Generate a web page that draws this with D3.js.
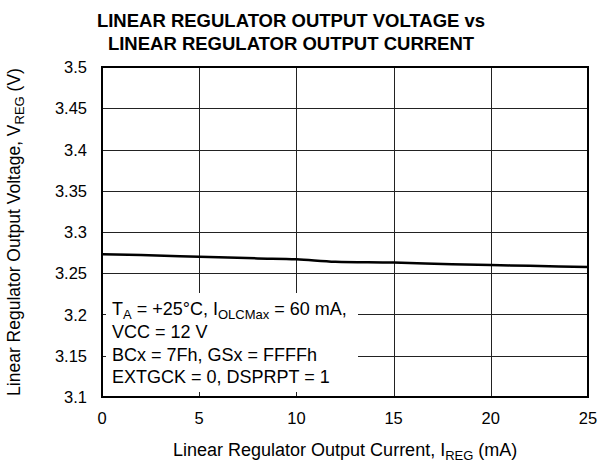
<!DOCTYPE html>
<html>
<head>
<meta charset="utf-8">
<script src="https://d3js.org/d3.v7.min.js"></script>
<style>
  body { margin: 0; background: #fff; }
  text { font-family: "Liberation Sans", Arial, sans-serif; fill: #000; }
</style>
</head>
<body>
<svg id="chart" width="600" height="465"></svg>
<script>
// values
var current = [0, 2, 5, 8, 10, 12, 15, 18, 20, 22, 25];
var vreg = [3.273, 3.272, 3.270, 3.268, 3.267, 3.264, 3.263, 3.261, 3.260, 3.259, 3.2575];

var xTicks = [0, 5, 10, 15, 20, 25];
var yTicks = [3.1, 3.15, 3.2, 3.25, 3.3, 3.35, 3.4, 3.45, 3.5];

var svg = d3.select('#chart');
var plotL = 102, plotR = 588, plotT = 67, plotB = 397;

var x = d3.scaleLinear().domain([0, 25]).range([plotL, plotR]);
var y = d3.scaleLinear().domain([3.1, 3.5]).range([plotB, plotT]);

// title
svg.append('text').attr('x', 291).attr('y', 27).attr('text-anchor', 'middle')
  .style('font-weight', 'bold').style('font-size', '18.5px')
  .text('LINEAR REGULATOR OUTPUT VOLTAGE vs');
svg.append('text').attr('x', 291).attr('y', 50).attr('text-anchor', 'middle')
  .style('font-weight', 'bold').style('font-size', '18.5px')
  .text('LINEAR REGULATOR OUTPUT CURRENT');

// grid
var grid = svg.append('g').attr('stroke', '#222').attr('stroke-width', 1);
grid.selectAll('line.v').data(xTicks.slice(1, -1)).enter().append('line')
  .attr('x1', function(d){ return Math.round(x(d)) + 0.5; })
  .attr('x2', function(d){ return Math.round(x(d)) + 0.5; })
  .attr('y1', plotT).attr('y2', plotB);
grid.selectAll('line.h').data(yTicks.slice(1, -1)).enter().append('line')
  .attr('y1', function(d){ return Math.round(y(d)) + 0.5; })
  .attr('y2', function(d){ return Math.round(y(d)) + 0.5; })
  .attr('x1', plotL).attr('x2', plotR);

// curve
var line = d3.line()
  .x(function(d, i){ return x(current[i]); })
  .y(function(d){ return y(d); })
  .curve(d3.curveMonotoneX);
svg.append('path').datum(vreg).attr('d', line)
  .attr('fill', 'none').attr('stroke', '#000').attr('stroke-width', 2.5);

// conditions box
svg.append('rect').attr('x', 106).attr('y', 293).attr('width', 252).attr('height', 99)
  .attr('fill', '#fff');

var note = svg.append('g').style('font-size', '18px');
var t1 = note.append('text').attr('x', 112).attr('y', 315);
t1.append('tspan').text('T');
t1.append('tspan').attr('dy', 4).style('font-size', '13px').text('A');
t1.append('tspan').attr('dy', -4).text(' = +25°C, I');
t1.append('tspan').attr('dy', 4).style('font-size', '13px').text('OLCMax');
t1.append('tspan').attr('dy', -4).text(' = 60 mA,');
note.append('text').attr('x', 112).attr('y', 338).text('VCC = 12 V');
note.append('text').attr('x', 112).attr('y', 361).text('BCx = 7Fh, GSx = FFFFh');
note.append('text').attr('x', 112).attr('y', 383).text('EXTGCK = 0, DSPRPT = 1');

// border
svg.append('rect').attr('x', plotL).attr('y', plotT)
  .attr('width', plotR - plotL).attr('height', plotB - plotT)
  .attr('fill', 'none').attr('stroke', '#000').attr('stroke-width', 2);

// tick labels
svg.selectAll('text.xt').data(xTicks).enter().append('text')
  .attr('x', function(d){ return x(d); }).attr('y', 424)
  .attr('text-anchor', 'middle').style('font-size', '16.5px')
  .text(function(d){ return d; });
svg.selectAll('text.yt').data(yTicks).enter().append('text')
  .attr('x', 87).attr('y', function(d){ return y(d) + 6; })
  .attr('text-anchor', 'end').style('font-size', '16.5px')
  .text(function(d){ return d; });

// axis titles
var xl = svg.append('text').attr('x', 173).attr('y', 456).style('font-size', '18px');
xl.append('tspan').text('Linear Regulator Output Current, I');
xl.append('tspan').attr('dy', 4).style('font-size', '13px').text('REG');
xl.append('tspan').attr('dy', -4).text(' (mA)');

var yl = svg.append('text').attr('transform', 'translate(20,' + ((plotT + plotB) / 2) + ') rotate(-90)')
  .attr('text-anchor', 'middle').style('font-size', '17.5px');
yl.append('tspan').text('Linear Regulator Output Voltage, V');
yl.append('tspan').attr('dy', 4).style('font-size', '13px').text('REG');
yl.append('tspan').attr('dy', -4).text(' (V)');
</script>
</body>
</html>
